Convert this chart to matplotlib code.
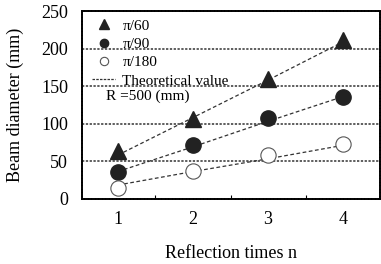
import matplotlib

matplotlib.use("Agg")
import matplotlib.pyplot as plt
from matplotlib.lines import Line2D

plt.rcParams["font.family"] = ["Liberation Serif", "DejaVu Serif"]

n = [1, 2, 3, 4]
d_60 = [63, 106, 159, 211]
d_90 = [36, 72, 108, 136]
d_180 = [14, 37, 58, 73]
theory_60 = [58, 108, 158, 209]
theory_90 = [36, 69, 103, 136]
theory_180 = [18, 36, 53, 71]
ref_lines = [50, 100, 150, 200]

fig = plt.figure(figsize=(3.81, 2.64), dpi=100)
ax = fig.add_axes([0.215, 0.248, 0.782, 0.71])

for y in ref_lines:
    ax.axhline(y, color="#333333", linewidth=1.1, linestyle=(0, (1.5, 1)), zorder=1)

dash = (0, (3, 2))
for th in (theory_60, theory_90, theory_180):
    ax.plot(n, th, color="#333333", linewidth=0.9, linestyle=dash, zorder=2)

ax.plot(n, d_60, linestyle="none", marker="^", markersize=11,
        color="#222222", zorder=3)
ax.plot(n, d_90, linestyle="none", marker="o", markersize=11,
        color="#222222", zorder=3)
ax.plot(n, d_180, linestyle="none", marker="o", markersize=11,
        markerfacecolor="white", markeredgecolor="#555555",
        markeredgewidth=0.8, zorder=3)

ax.set_xlim(0.52, 4.49)
ax.set_ylim(0, 250)
ax.set_xticks(n)
ax.set_xticks([1.5, 2.5, 3.5], minor=True)
ax.set_yticks([0, 50, 100, 150, 200, 250])
ax.tick_params(axis="both", which="major", length=0, labelsize=13, pad=10)
ax.tick_params(axis="x", which="minor", direction="in", length=3, width=0.8)
ax.tick_params(axis="x", which="major", pad=9)

for sp in ax.spines.values():
    sp.set_linestyle((0, (1, 0.8)))
    sp.set_linewidth(1.4)

ax.set_xlabel("Reflection times n", fontsize=13, labelpad=12)
ax.set_ylabel("Beam diameter (mm)", fontsize=13, labelpad=12)

handles = [
    Line2D([], [], linestyle="none", marker="^", markersize=7, color="#222222"),
    Line2D([], [], linestyle="none", marker="o", markersize=6, color="#222222"),
    Line2D([], [], linestyle="none", marker="o", markersize=6,
           markerfacecolor="white", markeredgecolor="#555555", markeredgewidth=0.8),
    Line2D([], [], color="#333333", linewidth=0.9, linestyle=(0, (2, 1))),
]
labels = ["\u03c0/60", "\u03c0/90", "\u03c0/180", "Theoretical value"]
leg = ax.legend(handles, labels, loc="upper left", bbox_to_anchor=(0.015, 0.99),
                frameon=False, fontsize=11, handlelength=1.5, handletextpad=0.45,
                labelspacing=0.3, borderaxespad=0.0, borderpad=0.4)
ax.text(0.84, 137, "R =500 (mm)", fontsize=11, va="center")

fig.savefig("out.png", dpi=100)
